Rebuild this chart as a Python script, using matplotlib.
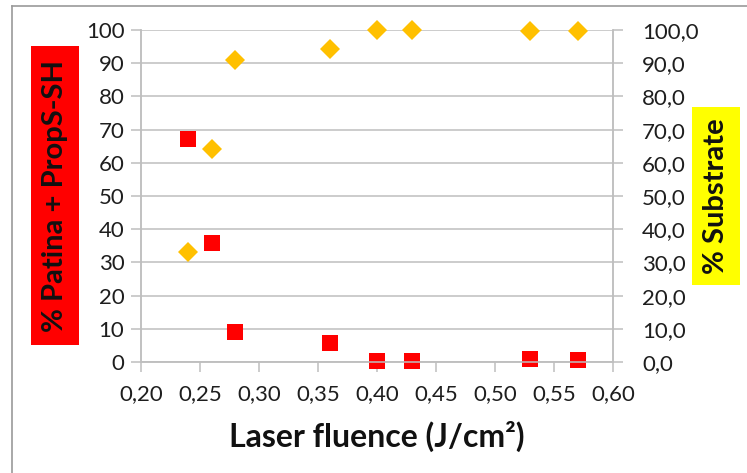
import matplotlib
matplotlib.use("Agg")
import matplotlib.pyplot as plt
from matplotlib.patches import Rectangle
from matplotlib.lines import Line2D
from matplotlib.ticker import FuncFormatter

plt.rcParams['font.family'] = ['Lato', 'DejaVu Sans']

# Laser fluence (J/cm²) and measured fractions
fluence = [0.24, 0.26, 0.28, 0.36, 0.40, 0.43, 0.53, 0.57]
patina = [67.2, 35.8, 9.0, 5.8, 0.2, 0.3, 0.8, 0.6]
substrate_fluence = [0.24, 0.26, 0.28, 0.36, 0.40, 0.43, 0.53, 0.57]
substrate = [33.0, 64.2, 91.0, 94.4, 100.0, 100.0, 99.8, 99.7]

x_ticks = [0.20, 0.25, 0.30, 0.35, 0.40, 0.45, 0.50, 0.55, 0.60]
y_ticks = [0, 10, 20, 30, 40, 50, 60, 70, 80, 90, 100]

W, H = 747, 473
fig = plt.figure(figsize=(W / 100, H / 100), dpi=100)

# outer chart-area frame
for xs, ys in [((12, 12), (6, H)), ((12, W), (6, 6))]:
    fig.add_artist(Line2D([x / W for x in xs], [1 - y / H for y in ys],
                          transform=fig.transFigure, color='#9a9a9a', lw=1.2))

left, right, top, bottom = 141, 613, 30, 362
ax = fig.add_axes([left / W, 1 - bottom / H, (right - left) / W, (bottom - top) / H])
ax2 = ax.twinx()

grid_c = '#bfbfbf'
tick_c = '#1e1e1e'

ax.set_xlim(0.20, 0.60)
ax.set_ylim(0, 100)
ax2.set_ylim(0, 100)
ax.set_xticks(x_ticks)
ax.set_yticks(y_ticks)
ax2.set_yticks(y_ticks)
ax.xaxis.set_major_formatter(FuncFormatter(lambda v, p: f"{v:.2f}".replace('.', ',')))
ax.yaxis.set_major_formatter(FuncFormatter(lambda v, p: f"{v:.0f}"))
ax2.yaxis.set_major_formatter(FuncFormatter(lambda v, p: f"{v:.1f}".replace('.', ',')))

ax.yaxis.grid(True, color=grid_c, lw=1.1)
ax.set_axisbelow(True)

for a in (ax, ax2):
    a.spines['top'].set_visible(False)
    for s in ('left', 'right', 'bottom'):
        a.spines[s].set_color(grid_c)
        a.spines[s].set_linewidth(1.1)
    a.tick_params(colors=grid_c, labelcolor=tick_c, labelsize=16,
                  length=7, width=1.1, direction='out')
ax.tick_params(axis='y', pad=5)
ax2.tick_params(axis='y', pad=14)
ax.tick_params(axis='x', pad=9)

ax.plot(fluence, patina, linestyle='none', marker='s', markersize=11.5,
        color='#ff0000', markeredgewidth=0, zorder=3, clip_on=False)
ax2.plot(substrate_fluence, substrate, linestyle='none', marker='D', markersize=10.6,
         color='#ffc000', markeredgewidth=0, zorder=3, clip_on=False)

ax.set_xlabel('Laser fluence (J/cm²)', fontsize=23, fontweight='bold',
              color='#111111', labelpad=12)

# coloured axis-title boxes
def label_box(x0, x1, y0, y1, color, text, size):
    fig.add_artist(Rectangle((x0 / W, 1 - y1 / H), (x1 - x0) / W, (y1 - y0) / H,
                             transform=fig.transFigure, facecolor=color,
                             edgecolor='none'))
    fig.text((x0 + x1) / 2 / W, 1 - (y0 + y1) / 2 / H, text, rotation=90,
             ha='center', va='center', fontsize=size, fontweight='bold',
             color='#111111')

label_box(31, 79, 46, 345, '#ff0000', '% Patina + PropS-SH', 21)
label_box(692, 740, 107, 285, '#ffff00', '% Substrate', 21)

fig.savefig('out.png', dpi=100)
